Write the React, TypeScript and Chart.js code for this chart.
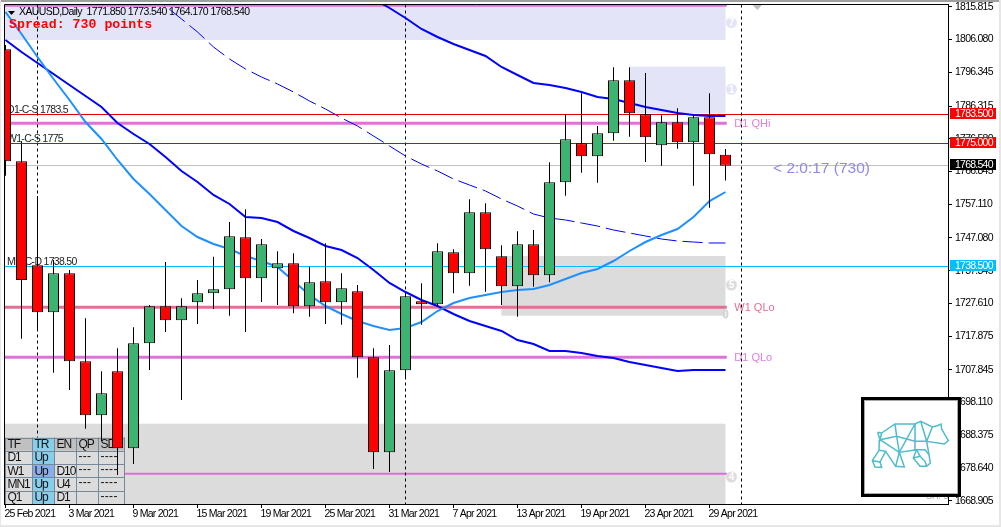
import React, { useEffect, useRef } from "react";
import { Chart, registerables } from "chart.js";

Chart.register(...registerables);

const SANS = '"Liberation Sans"';

const opens = [1803.19,1769.87,1738.93,1724.95,1736.55,1710.37,1694.31,1707.40,1684.49,1715.73,1726.74,1722.57,1727.93,1730.60,1731.79,1747.26,1735.06,1738.04,1739.53,1726.74,1734.17,1727.93,1731.20,1711.56,1683.30,1707.70,1728.22,1727.33,1742.80,1736.55,1754.70,1741.61,1732.69,1745.18,1735.96,1763.61,1775.23,1771.36,1778.20,1793.97,1783.86,1774.63,1781.48,1775.53,1782.96,1771.85];
const closes = [1769.87,1734.56,1724.95,1736.55,1710.37,1694.31,1700.85,1684.49,1715.73,1726.74,1722.57,1726.74,1730.60,1731.79,1747.56,1735.06,1745.18,1739.53,1726.74,1733.88,1727.93,1732.09,1711.56,1683.30,1707.70,1729.71,1727.33,1743.10,1736.55,1754.70,1743.69,1732.69,1745.18,1735.96,1763.61,1776.42,1771.36,1778.20,1793.97,1784.15,1777.01,1781.48,1775.53,1782.96,1771.96,1768.54];
const highs = [1804.47,1775.82,1759.55,1740.51,1737.53,1723.16,1707.40,1714.24,1720.49,1727.12,1739.91,1729.12,1734.56,1741.49,1751.82,1755.59,1746.76,1743.10,1742.50,1738.52,1745.48,1736.55,1733.07,1714.24,1715.22,1730.69,1733.58,1745.48,1743.69,1758.57,1757.38,1744.88,1749.05,1749.43,1769.57,1783.95,1790.10,1780.38,1797.84,1797.84,1796.14,1783.56,1785.64,1783.65,1790.10,1773.54];
const lows = [1765.59,1717.10,1719.48,1706.98,1701.83,1690.32,1686.66,1676.55,1679.82,1707.79,1719.09,1698.86,1721.47,1725.93,1723.94,1719.09,1728.01,1727.12,1724.65,1723.64,1721.47,1721.26,1705.49,1678.33,1677.44,1705.11,1721.26,1726.62,1730.60,1732.86,1731.08,1727.12,1723.64,1732.57,1733.88,1759.64,1766.48,1763.51,1776.00,1777.19,1769.67,1768.56,1773.62,1762.61,1756.07,1764.17];

const fastMA = [1814.29,1807.75,1800.90,1794.36,1788.11,1781.56,1776.51,1770.26,1764.61,1760.14,1755.38,1750.62,1747.35,1745.27,1743.78,1741.70,1740.21,1738.43,1734.26,1730.10,1726.82,1724.44,1722.36,1720.87,1719.68,1720.28,1722.06,1725.34,1727.72,1729.20,1730.10,1730.99,1731.58,1731.88,1733.07,1734.86,1736.64,1737.83,1740.21,1743.19,1745.86,1747.95,1749.73,1753.30,1758.06,1760.74];
const midMA = [1805.96,1802.39,1799.12,1795.84,1792.57,1789.30,1786.03,1781.27,1777.99,1775.02,1771.15,1766.99,1763.71,1759.85,1757.17,1753.30,1753.00,1751.81,1749.14,1747.05,1744.67,1743.48,1741.10,1737.53,1733.67,1730.99,1728.61,1726.82,1724.44,1722.36,1720.87,1719.39,1716.71,1715.52,1713.44,1713.44,1712.84,1711.95,1711.35,1710.16,1709.27,1708.38,1707.49,1707.78,1707.78,1707.78];
const slowMAStart = 23;
const slowMA = [1818.16,1815.48,1812.50,1809.23,1806.85,1804.77,1802.98,1801.20,1797.93,1795.55,1793.17,1792.57,1791.68,1790.49,1789.00,1788.41,1787.22,1786.03,1785.13,1784.24,1783.65,1783.35,1783.35];
const dashMAStart = 9;
const dashMA = [1820.24,1816.07,1812.21,1808.34,1803.88,1800.31,1797.33,1794.95,1792.87,1790.49,1787.81,1785.43,1782.75,1780.37,1777.40,1774.42,1771.45,1769.07,1766.99,1764.61,1762.82,1761.04,1758.66,1756.57,1754.19,1753.00,1752.41,1751.52,1750.62,1749.43,1748.54,1747.65,1746.76,1746.16,1745.86,1745.57,1745.57];

const priceTicks = [1815.815,1806.08,1796.345,1786.315,1776.58,1766.845,1757.11,1747.08,1737.345,1727.61,1717.875,1707.845,1698.11,1688.375,1678.64,1668.905];
const dateTickIndex = [0,4,8,12,16,20,24,28,32,36,40,44];
const dateLabels = ["25 Feb 2021","3 Mar 2021","9 Mar 2021","15 Mar 2021","19 Mar 2021","25 Mar 2021","31 Mar 2021","7 Apr 2021","13 Apr 2021","19 Apr 2021","23 Apr 2021","29 Apr 2021"];
const separatorIndex = [2,25,46];

const priceMax = 1816.52;
const priceMin = 1667.92;
const indexMin = -0.09375;
const indexMax = 58.90625;

// [first bar (null = left edge), top price, bottom price]
const lavenderZones: [number | null, number, number][] = [[null,1816.52,1805.96],[39,1798.02,1784.15]];
const greyZones: [number | null, number, number][] = [[31,1741.70,1723.94],[null,1691.81,1667.92]];
const thickOrchidLevels = [1781.18,1711.56];
const thickRoseLevel = 1726.44;
const thinOrchidLevels = [1816.16,1676.93];
const redLevels = [1783.5,1775];
const lastPrice = 1768.54;
const cyanLevel = 1738.5;
const zoneBadges: [string, number, "l" | "g"][] = [["7",1811.11,"l"],["1",1791.29,"l"],["5",1733.07,"g"],["4",1675.95,"g"]];
const leftNotes: [string, number][] = [["D1-C-S 1783.5",1783.5],["W1-C-S 1775",1775],["MN-C-D 1738.50",1738.5]];
const rightNotes: [string, number, string][] = [["D1 QHi",1781.18,"#E27DDC"],["W1 QLo",1726.44,"#E0708F"],["D1 QLo",1711.56,"#E27DDC"]];
const priceTags: [string, number, string][] = [["1783.500",1783.5,"#FF0000"],["1775.000",1775,"#FF0000"],["1768.540",1768.54,"#000000"],["1738.500",1738.5,"#00BFFF"]];
const tableHead = ["TF","TR","EN","QP","SD"];
const tableRows = [["D1","Up","","---","----"],["W1","Up","D10","---","----"],["MN1","Up","U4","---","----"],["Q1","Up","D1","","----"]];

const bearPaths = [
  "M68 128L80 130L75 150L68 128",
  "M80 130L120 103L180 103L197 95L232 112L247 108L258 103L260 118L280 153L268 163L215 155L222 195L226 220L215 230L195 230L175 205L185 180L133 188L122 230L148 232L133 188",
  "M120 103L125 140L133 188L180 103L180 155L215 155L197 95",
  "M232 112L215 155",
  "M75 150L125 140L180 155",
  "M75 150L133 188",
  "M92 185L122 230",
  "M73 150L72 182L52 213L60 232L80 233L75 217L52 213",
  "M75 217L92 185L72 182",
  "M180 155L180 180L210 180L222 195",
  "M175 205L195 200L210 215L215 230",
  "M195 200L185 180",
];

const series = (vals: number[], start = 0) => vals.map((y, i) => ({ x: i + start, y }));

const setFont = (ctx: any, font: string, spacing: string) => {
  ctx.font = font;
  ctx.letterSpacing = spacing;
};

const annotate = {
  id: "annotate",
  beforeDraw(chart: any) {
    chart.ctx.letterSpacing = "-0.75px";
  },
  beforeDatasetsDraw(chart: any) {
    const { ctx, chartArea: a, scales } = chart;
    const X = (v: number) => scales.x.getPixelForValue(v);
    const Y = (v: number) => scales.y.getPixelForValue(v);
    const crisp = (v: number) => Math.round(Y(v)) - 0.5;
    ctx.save();
    ctx.beginPath();
    ctx.rect(a.left, a.top, a.width, a.height);
    ctx.clip();

    const zone = (z: [number | null, number, number], c: string) => {
      const l = z[0] === null ? a.left : X(z[0]);
      ctx.fillStyle = c;
      ctx.fillRect(l, Y(z[1]), X(45) - l, Y(z[2]) - Y(z[1]));
    };
    lavenderZones.forEach((z) => zone(z, "#E3E4F8"));
    greyZones.forEach((z) => zone(z, "#DCDCDC"));

    zoneBadges.forEach(([t, p, k]) => {
      ctx.fillStyle = k === "l" ? "#E3E4F8" : "#DCDCDC";
      ctx.beginPath();
      ctx.arc(X(45.37), Y(p), 5.5, 0, Math.PI * 2);
      ctx.fill();
      ctx.fillStyle = "#FFFFFF";
      setFont(ctx, `bold 10px ${SANS}`, "0px");
      ctx.textAlign = "center";
      ctx.textBaseline = "middle";
      ctx.fillText(t, X(45.37), Y(p) + 0.5);
    });
    ctx.strokeStyle = "#D4D4D4";
    ctx.lineWidth = 1;
    setFont(ctx, `10px ${SANS}`, "0px");
    ctx.strokeText("0", X(45), Y(1723.94));

    const hline = (p: number, c: string, w: number, toEnd: boolean, yy?: number) => {
      ctx.strokeStyle = c;
      ctx.lineWidth = w;
      ctx.setLineDash([]);
      ctx.beginPath();
      const y = yy ?? Y(p);
      ctx.moveTo(a.left, y);
      ctx.lineTo(toEnd ? a.right : X(45.08), y);
      ctx.stroke();
    };
    thinOrchidLevels.forEach((p) => hline(p, "#DA70D6", 2, false));
    thickOrchidLevels.forEach((p) => hline(p, "#DD72D9", 3, false));
    hline(thickRoseLevel, "#DF7096", 3, false);
    redLevels.forEach((p) => hline(p, "#E00000", 1, true, crisp(p)));
    hline(lastPrice, "#C0C0C0", 1, true, crisp(lastPrice));
    hline(cyanLevel, "#00BFFF", 1, true, crisp(cyanLevel));

    ctx.strokeStyle = "#000000";
    ctx.lineWidth = 1;
    ctx.setLineDash([3, 3]);
    separatorIndex.forEach((i) => {
      ctx.beginPath();
      ctx.moveTo(X(i), a.top);
      ctx.lineTo(X(i), a.bottom);
      ctx.stroke();
    });
    ctx.setLineDash([]);

    // Signal table
    const cols = [5.5, 32.5, 54.5, 76.5, 98.5, 124.5];
    const rowTop = a.bottom - 66.5;
    const rowH = 13.3;
    ctx.textBaseline = "middle";
    ctx.textAlign = "left";
    [tableHead, ...tableRows].forEach((row, r) => {
      row.forEach((txt, c) => {
        let bg = r === 0 ? "#C0C0C0" : "#DCDCDC";
        if (c === 1) bg = r === 2 ? "#87AEEA" : "#87CEEB";
        ctx.fillStyle = bg;
        ctx.fillRect(cols[c], rowTop + r * rowH, cols[c + 1] - cols[c], rowH);
        ctx.fillStyle = "#111111";
        setFont(ctx, `12px ${SANS}`, txt.startsWith("-") ? "0.3px" : "-1.1px");
        ctx.fillText(txt, cols[c] + 2, rowTop + r * rowH + rowH / 2 + (r > 0 && c > 2 ? -1 : 0.5));
      });
    });
    ctx.strokeStyle = "#778899";
    ctx.lineWidth = 1;
    cols.forEach((x) => {
      ctx.beginPath();
      ctx.moveTo(x, rowTop);
      ctx.lineTo(x, a.bottom);
      ctx.stroke();
    });
    for (let r = 0; r <= 5; r++) {
      const y = Math.round(rowTop + r * rowH) + 0.5;
      ctx.beginPath();
      ctx.moveTo(cols[0], y);
      ctx.lineTo(cols[5], y);
      ctx.stroke();
    }

    ctx.fillStyle = "#222222";
    setFont(ctx, `10.5px ${SANS}`, "-0.7px");
    ctx.textBaseline = "alphabetic";
    leftNotes.forEach(([t, p]) => ctx.fillText(t, a.left + 3, crisp(p) - 2));
    ctx.restore();
  },
  afterDatasetsDraw(chart: any) {
    const { ctx, scales } = chart;
    const X = (v: number) => scales.x.getPixelForValue(v);
    const Y = (v: number) => scales.y.getPixelForValue(v);
    ctx.save();
    ctx.textAlign = "left";
    ctx.textBaseline = "middle";
    setFont(ctx, `11px ${SANS}`, "0px");
    rightNotes.forEach(([t, p, c]) => {
      ctx.fillStyle = c;
      ctx.fillText(t, X(45.55), Y(p) + 0.5);
    });
    ctx.fillStyle = "#8F88EC";
    setFont(ctx, `15.5px ${SANS}`, "0px");
    ctx.fillText("< 2:0:17 (730)", X(47.97), Y(lastPrice) + 3);
    ctx.fillStyle = "#000000";
    setFont(ctx, `10.5px ${SANS}`, "-0.6px");
    ctx.fillText("XAUUSD,Daily  1771.850 1773.540 1764.170 1768.540", 19, 12.5);
    ctx.beginPath();
    ctx.moveTo(8, 11);
    ctx.lineTo(15, 11);
    ctx.lineTo(11.5, 15);
    ctx.fill();
    ctx.fillStyle = "#FF0000";
    setFont(ctx, "bold 13.25px 'Liberation Mono'", "0px");
    ctx.fillText("Spread: 730 points", 9, 25);
    ctx.fillStyle = "#C0C0C0";
    ctx.beginPath();
    ctx.moveTo(752.5, 5);
    ctx.lineTo(762, 5);
    ctx.lineTo(757.3, 10);
    ctx.fill();
    ctx.restore();
  },
  afterDraw(chart: any) {
    const { ctx, chartArea: a, scales } = chart;
    const Y = (v: number) => scales.y.getPixelForValue(v);
    ctx.save();
    ctx.strokeStyle = "#000000";
    ctx.lineWidth = 1;
    ctx.beginPath();
    ctx.moveTo(4.5, a.bottom);
    ctx.lineTo(4.5, 4.5);
    ctx.lineTo(a.right, 4.5);
    ctx.stroke();
    setFont(ctx, `10.5px ${SANS}`, "-0.75px");
    ctx.textAlign = "left";
    ctx.textBaseline = "middle";
    priceTags.forEach(([t, p, c]) => {
      const y = Math.round(Y(p)) - 0.5;
      ctx.fillStyle = c;
      ctx.fillRect(950, y - 6.5, 46, 11);
      ctx.fillStyle = "#FFFFFF";
      ctx.fillText(t, 955, y - 0.5);
    });
    ctx.fillStyle = "#A8A8A8";
    setFont(ctx, `9px ${SANS}`, "0px");
    ctx.fillText("SH: 5", 926, 497);
    ctx.restore();
  },
};

export default function App() {
  const ref = useRef<HTMLCanvasElement | null>(null);
  useEffect(() => {
    document.body.style.margin = "0";
    document.body.style.background = "#FFFFFF";
    const chart = new Chart(ref.current as HTMLCanvasElement, {
      type: "bar",
      plugins: [annotate],
      data: {
        datasets: [
          {
            type: "bar",
            order: 1,
            grouped: false,
            barThickness: 11,
            borderWidth: 1,
            borderColor: "#000000",
            borderSkipped: false,
            inflateAmount: 0,
            backgroundColor: opens.map((o, i) => (closes[i] >= o ? "#3CB371" : "#FF0000")),
            data: opens.map((o, i) => ({ x: i, y: [o, closes[i]] })),
          },
          {
            type: "bar",
            order: 2,
            grouped: false,
            barThickness: 1,
            borderWidth: 0,
            inflateAmount: 0,
            backgroundColor: "#000000",
            data: highs.map((h, i) => ({ x: i, y: [lows[i], h] })),
          },
          { type: "line", order: 3, borderColor: "#1E90FF", borderWidth: 2, pointRadius: 0, tension: 0, data: series(fastMA) },
          { type: "line", order: 4, borderColor: "#0000FF", borderWidth: 2, pointRadius: 0, tension: 0, data: series(midMA) },
          { type: "line", order: 5, borderColor: "#0000FF", borderWidth: 2, pointRadius: 0, tension: 0, data: series(slowMA, slowMAStart) },
          { type: "line", order: 6, borderColor: "#0000FF", borderWidth: 1, borderDash: [20, 6], pointRadius: 0, tension: 0, data: series(dashMA, dashMAStart) },
        ] as any,
      },
      options: {
        responsive: false,
        devicePixelRatio: 1,
        animation: false,
        layout: { padding: { left: 4, top: 4.5, right: 0, bottom: 0 } },
        plugins: { legend: { display: false }, tooltip: { enabled: false } },
        scales: {
          x: {
            type: "linear",
            offset: false,
            min: indexMin,
            max: indexMax,
            afterBuildTicks: (s: any) => {
              s.ticks = dateTickIndex.map((value) => ({ value }));
            },
            afterFit: (s: any) => {
              s.height = 23;
              s.paddingLeft = 0;
              s.paddingRight = 0;
            },
            grid: { drawOnChartArea: false, drawTicks: true, offset: false, tickLength: 4, color: "#000000" },
            border: { display: true, color: "#000000" },
            ticks: {
              autoSkip: false,
              maxRotation: 0,
              minRotation: 0,
              align: "start",
              padding: 0,
              labelOffset: -1,
              color: "#000000",
              font: { family: SANS, size: 10.5 },
              callback: (v: any) => dateLabels[dateTickIndex.indexOf(v)],
            },
          },
          y: {
            type: "linear",
            position: "right",
            min: priceMin,
            max: priceMax,
            afterBuildTicks: (s: any) => {
              s.ticks = priceTicks.map((value) => ({ value }));
            },
            afterFit: (s: any) => {
              s.width = 53;
              s.paddingTop = 0;
              s.paddingBottom = 0;
            },
            grid: { drawOnChartArea: false, drawTicks: true, tickLength: 4, color: "#000000" },
            border: { display: true, color: "#000000" },
            ticks: {
              autoSkip: false,
              padding: 3,
              color: "#000000",
              font: { family: SANS, size: 10.5 },
              callback: (v: any) => Number(v).toFixed(3),
            },
          },
        },
      } as any,
    });
    return () => chart.destroy();
  }, []);

  return (
    <div style={{ position: "absolute", left: 0, top: 0, width: 1001, height: 527, overflow: "hidden", background: "#FFFFFF" }}>
      <canvas ref={ref} width={1001} height={527} style={{ display: "block" }} />
      <div style={{ position: "absolute", left: 0, top: 0, width: 1001, height: 2, background: "#A0A0A0" }} />
      <div style={{ position: "absolute", left: 0, top: 525, width: 1001, height: 2, background: "#E6E6E6" }} />
      <div style={{ position: "absolute", left: 999, top: 0, width: 2, height: 527, background: "#E6E6E6" }} />
      <div style={{ position: "absolute", left: 0, top: 0, width: 1, height: 527, background: "#E6E6E6" }} />
      <div style={{ position: "absolute", left: 861, top: 397, width: 100, height: 100, boxSizing: "border-box", border: "3px solid #000000", background: "#FFFFFF", boxShadow: "inset 0 0 0 1px #A8A8A8" }}>
        <svg style={{ position: "absolute", left: -3, top: -3 }} width={100} height={100} viewBox="18 22 300 300">
          {bearPaths.map((d, i) => (
            <path key={i} d={d} fill="none" stroke="#4FBCCB" strokeWidth={4.5} />
          ))}
        </svg>
      </div>
    </div>
  );
}
